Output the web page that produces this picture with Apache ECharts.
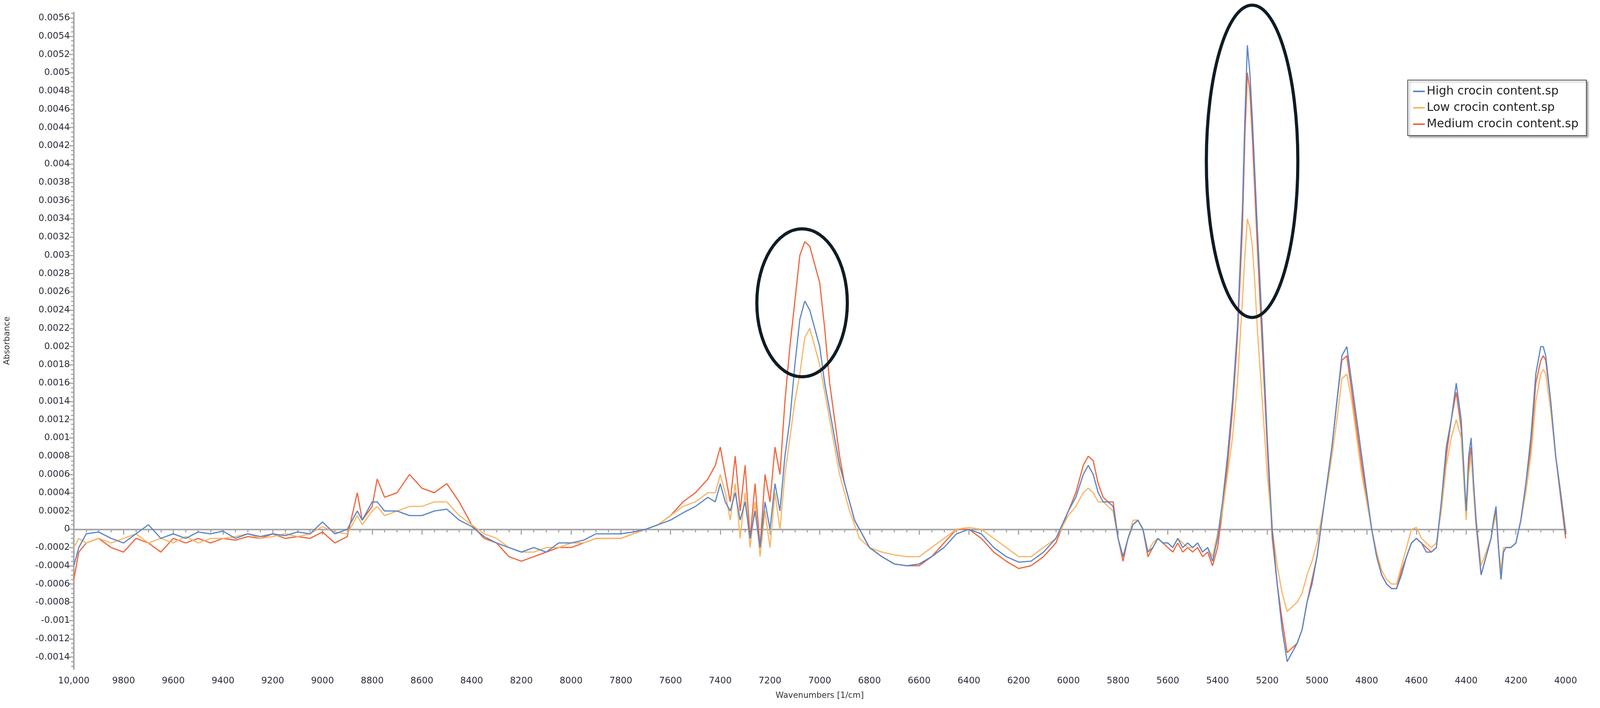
<!DOCTYPE html>
<html>
<head>
<meta charset="utf-8">
<script src="https://cdn.jsdelivr.net/npm/echarts@6/dist/echarts.min.js"></script>
<style>
  html, body { margin: 0; padding: 0; background: #fff; overflow: hidden; width: 100%; height: 100%; }
  #chart { width: 100vw; height: 100vh; }
</style>
</head>
<body>
<div id="chart"></div>
<script>
// wavenumbers in 1/cm, absorbance values below are in units of 1e-4
const wavenumbers = [
  10000, 9980, 9950, 9900, 9850, 9800, 9750, 9700, 9650, 9600,
  9550, 9500, 9450, 9400, 9350, 9300, 9250, 9200, 9150, 9100,
  9050, 9000, 8950, 8900, 8860, 8840, 8800, 8780, 8750, 8700,
  8650, 8600, 8550, 8500, 8450, 8400, 8350, 8300, 8250, 8200,
  8150, 8100, 8050, 8000, 7950, 7900, 7850, 7800, 7750, 7700,
  7650, 7600, 7550, 7500, 7450, 7420, 7400, 7380, 7360, 7340,
  7320, 7300, 7280, 7260, 7240, 7220, 7200, 7180, 7160, 7140,
  7120, 7100, 7080, 7060, 7040, 7020, 7000, 6980, 6960, 6940,
  6920, 6900, 6880, 6860, 6840, 6800, 6750, 6700, 6650, 6600,
  6550, 6500, 6450, 6400, 6350, 6300, 6250, 6200, 6150, 6100,
  6050, 6000, 5970, 5940, 5920, 5900, 5880, 5860, 5840, 5820,
  5800, 5780, 5760, 5740, 5720, 5700, 5680, 5660, 5640, 5620,
  5600, 5580, 5560, 5540, 5520, 5500, 5480, 5460, 5440, 5420,
  5400, 5380, 5360, 5340, 5320, 5300, 5290, 5280, 5270, 5260,
  5250, 5240, 5220, 5200, 5180, 5160, 5140, 5120, 5100, 5080,
  5060, 5040, 5020, 5000, 4980, 4960, 4940, 4920, 4900, 4880,
  4860, 4840, 4820, 4800, 4780, 4760, 4740, 4720, 4700, 4680,
  4660, 4640, 4620, 4600, 4580, 4560, 4540, 4520, 4500, 4480,
  4460, 4440, 4420, 4400, 4390, 4380, 4370, 4360, 4340, 4320,
  4300, 4290, 4280, 4270, 4260, 4250, 4240, 4220, 4200, 4180,
  4160, 4140, 4120, 4100, 4090, 4080, 4060, 4040, 4020, 4000
];

const highCrocin = [
  -4, -2, -0.5, -0.3, -1, -1.5, -0.5, 0.5, -1, -0.5,
  -1, -0.3, -0.5, -0.2, -1, -0.5, -0.8, -0.5, -0.7, -0.3,
  -0.5, 0.8, -0.5, 0, 2, 1, 3, 3, 2, 2,
  1.5, 1.5, 2, 2.2, 1, 0.3, -0.8, -1.5, -2, -2.5,
  -2, -2.5, -1.5, -1.5, -1.2, -0.5, -0.5, -0.5, -0.3, 0,
  0.5, 1, 1.8, 2.5, 3.5, 3, 5, 3, 2, 4,
  1, 3, -1, 2, -2, 3, 0, 5, 2, 8,
  12, 18, 23, 25, 24, 22, 20, 16, 13, 10,
  7, 5, 3, 1, 0, -2, -3, -3.8, -4, -3.8,
  -3, -2, -0.5, 0, -0.5, -2, -3, -3.6, -3.5, -2.5,
  -1, 2, 3.5, 6, 7, 6, 4, 3, 3, 2.5,
  -1, -3, -1, 0.5, 1, 0, -2.5, -2, -1, -1.5,
  -1.5, -2, -1, -2, -1.5, -2, -1.5, -2.5, -2, -3.5,
  -1, 3, 8, 14, 22, 35, 45, 53, 50, 45,
  39, 33, 22, 10, 0, -6, -11, -14.5, -13.5, -12.5,
  -11, -8, -6, -3, 1, 5, 9, 14, 19, 20,
  16, 12, 8, 4, 0, -3, -5, -6, -6.5, -6.5,
  -5, -3, -1.5, -1, -1.5, -2.5, -2.5, -2, 3, 9,
  12, 16, 12, 2, 8, 10, 5, 1, -5, -3,
  -1, 1, 2.5, -2, -5.5, -2.5, -2, -2, -1.5, 1,
  5, 10, 17, 20, 20, 19, 14, 8, 4, -0.5
];

const lowCrocin = [
  -2, -1, -1.5, -1, -1.5, -1, -0.5, -1.5, -1, -1.5,
  -0.8, -1.5, -1, -1, -0.8, -0.5, -1, -0.8, -0.5, -0.8,
  -0.5, 0.3, -0.3, -0.5, 1.5, 0.5, 2, 2.5, 1.5, 2,
  2.5, 2.5, 3, 3, 1.5, 0.5, -0.5, -1, -2, -2.5,
  -2.5, -2, -2, -1.5, -1.5, -1, -1, -1, -0.5, 0,
  0.5, 1.5, 2.5, 3, 4, 4, 6, 4, 1, 5,
  -1, 4, -2, 3, -3, 2, -2, 4, 0, 6,
  10, 14, 17, 21, 22, 20, 18, 15, 12, 9,
  6, 4, 2, 0.5, -1, -2, -2.5, -2.8, -3, -3,
  -2, -1, 0, 0.2, 0, -1, -2, -3, -3, -2,
  -1, 1.5, 2.5, 4, 4.5, 4, 3, 3, 2.5, 2,
  -1, -3, -1, 1, 1, 0, -2.5, -1.5, -1, -1.5,
  -1.5, -2, -1, -1.5, -2, -2, -1.5, -2.5, -2, -3,
  -0.5, 2, 6, 10, 16, 25, 30, 34, 33, 31,
  27, 22, 14, 6, 0, -4, -7, -9, -8.5, -8,
  -7, -5, -3.5, -1.5, 1.5, 4.5, 8, 12, 16.5, 17,
  14, 10, 6, 3, 0, -2.5, -4.5, -5.5, -6, -6,
  -4, -2, 0, 0.2, -1, -1.5, -2, -1.5, 2, 7,
  10, 12, 10, 1, 6, 8, 4, 1, -4, -2.5,
  -1, 0.5, 1.5, -2, -4.5, -2, -2, -2, -1.5, 1,
  4, 8, 14, 17, 17.5, 17, 13, 8, 4, 0
];

const mediumCrocin = [
  -5.5, -2.5, -1.5, -1, -2, -2.5, -1, -1.5, -2.5, -1,
  -1.5, -1, -1.5, -1, -1.2, -0.8, -1, -0.5, -1, -0.8,
  -1, -0.3, -1.5, -0.8, 4, 1, 2.5, 5.5, 3.5, 4,
  6, 4.5, 4, 5, 3, 0.5, -1, -1.5, -3, -3.5,
  -3, -2.5, -2, -2, -1.5, -1, -1, -1, -0.5, 0,
  0.5, 1.5, 3, 4, 5.5, 7, 9, 6, 3, 8,
  2, 7, -1, 5, -2, 6, 3, 9, 6, 14,
  20, 25, 30, 31.5, 31, 29, 27, 22, 16, 12,
  8, 5, 3, 1, 0, -2, -3, -3.8, -4, -4,
  -3, -1.5, 0, 0, -1, -2.5, -3.5, -4.3, -4, -3,
  -1.5, 2, 4, 7, 8, 7.5, 5, 3.5, 3, 3,
  -1, -3.5, -1, 0.5, 1, 0, -3, -2, -1, -1.5,
  -2, -2.5, -1.5, -2.5, -2, -2.5, -2, -3, -2.5, -4,
  -2, 2, 7, 13, 21, 33, 43, 50, 48, 43,
  37, 31, 20, 9, -1, -6, -10, -13.5, -13, -12.5,
  -11, -8, -5.5, -3, 1, 5, 9, 14, 18.5, 19,
  15, 11, 7, 3.5, 0, -3, -5, -6, -6.5, -6.5,
  -4.5, -3, -1.5, -1, -1.5, -2, -2.5, -2, 2.5, 8,
  12, 15, 11, 1.5, 7, 9, 4, 0.5, -5, -3,
  -1, 0.5, 2, -2, -5.5, -2.5, -2, -2, -1.5, 1,
  5, 9, 16, 18.5, 19, 18.5, 14, 8, 3.5, -1
];

const seriesNames = ['High crocin content.sp', 'Low crocin content.sp', 'Medium crocin content.sp'];
const seriesColors = ['#5b86c8', '#f9b563', '#f2643a'];

// highlighted regions: [centre wavenumber, centre absorbance, half-width (1/cm), half-height]
const highlights = [
  [7071, 0.00248, 182, 0.00081],
  [5261, 0.00403, 184, 0.00171]
];

// y tick labels: -0.0014 .. 0.0056 every 0.0002
const yTicks = [];
for (let i = -14; i <= 56; i += 2) yTicks.push(i / 10000);
const yMinorTicks = [];
for (let i = -30; i <= 113; i++) yMinorTicks.push(i / 20000);

const toPairs = (vals) => vals.map((v, i) => [wavenumbers[i], v / 10000]);

const chart = echarts.init(document.getElementById('chart'));
const axisGray = '#a6a6a6';
const font = 'DejaVu Sans';

chart.setOption({
  animation: false,
  backgroundColor: '#fff',
  textStyle: { fontFamily: font },
  grid: { left: 185, right: 88, top: 32, bottom: 100 },
  legend: {
    orient: 'vertical',
    right: 35,
    top: 205,
    itemWidth: 30,
    itemHeight: 4,
    itemGap: 12,
    padding: [14, 20, 14, 14],
    backgroundColor: '#fff',
    borderColor: '#555',
    borderWidth: 2,
    shadowColor: 'rgba(0,0,0,0.35)',
    shadowBlur: 4,
    shadowOffsetX: 4,
    shadowOffsetY: 4,
    textStyle: { fontSize: 30, color: '#222', fontFamily: font },
    icon: 'rect',
    data: seriesNames
  },
  xAxis: {
    type: 'value',
    inverse: true,
    min: 4000,
    max: 10000,
    interval: 200,
    name: 'Wavenumbers [1/cm]',
    nameLocation: 'middle',
    nameGap: 58,
    nameTextStyle: { fontSize: 21, color: '#333' },
    axisLine: { lineStyle: { color: axisGray, width: 4 } },
    axisTick: { length: 14, lineStyle: { color: axisGray, width: 3 } },
    minorTick: { show: true, splitNumber: 4, length: 8, lineStyle: { color: axisGray, width: 3 } },
    splitLine: { show: false },
    axisLabel: {
      fontSize: 23, color: '#2a2a3a', margin: 20,
      formatter: (v) => (v === 10000 ? '10,000' : String(v))
    }
  },
  yAxis: [
    {
      type: 'value',
      min: -0.00153,
      max: 0.00566,
      name: 'Absorbance',
      nameLocation: 'middle',
      nameRotate: 90,
      nameGap: 160,
      nameTextStyle: { fontSize: 21, color: '#333' },
      axisLine: { show: true, lineStyle: { color: axisGray, width: 4 } },
      axisTick: { show: true, length: 12, customValues: yTicks, lineStyle: { color: axisGray, width: 3 } },
      splitLine: { show: false },
      axisLabel: {
        fontSize: 23, color: '#2a2a3a', margin: 10,
        customValues: yTicks,
        formatter: (v) => String(parseFloat(v.toFixed(4)))
      }
    },
    {
      type: 'value',
      position: 'left',
      min: -0.00153,
      max: 0.00566,
      axisLine: { show: false },
      axisTick: { show: true, length: 7, customValues: yMinorTicks, lineStyle: { color: axisGray, width: 3 } },
      axisLabel: { show: false },
      splitLine: { show: false }
    }
  ],
  series: [highCrocin, lowCrocin, mediumCrocin].map((vals, i) => ({
    name: seriesNames[i],
    type: 'line',
    data: toPairs(vals),
    showSymbol: false,
    symbol: 'none',
    lineStyle: { width: 3, color: seriesColors[i] },
    itemStyle: { color: seriesColors[i] },
    z: i === 1 ? 3 : (i === 0 ? 4 : 2)
  }))
});

// place the ellipses in data space
const ellipses = highlights.map(([wn, val, dw, dv]) => {
  const c = chart.convertToPixel({ gridIndex: 0 }, [wn, val]);
  const e = chart.convertToPixel({ gridIndex: 0 }, [wn - dw, val + dv]);
  return {
    type: 'ellipse',
    shape: { cx: c[0], cy: c[1], rx: Math.abs(e[0] - c[0]), ry: Math.abs(c[1] - e[1]) },
    style: { fill: 'none', stroke: '#0f1c24', lineWidth: 8 },
    z: 10
  };
});
chart.setOption({ graphic: ellipses });
</script>
</body>
</html>
